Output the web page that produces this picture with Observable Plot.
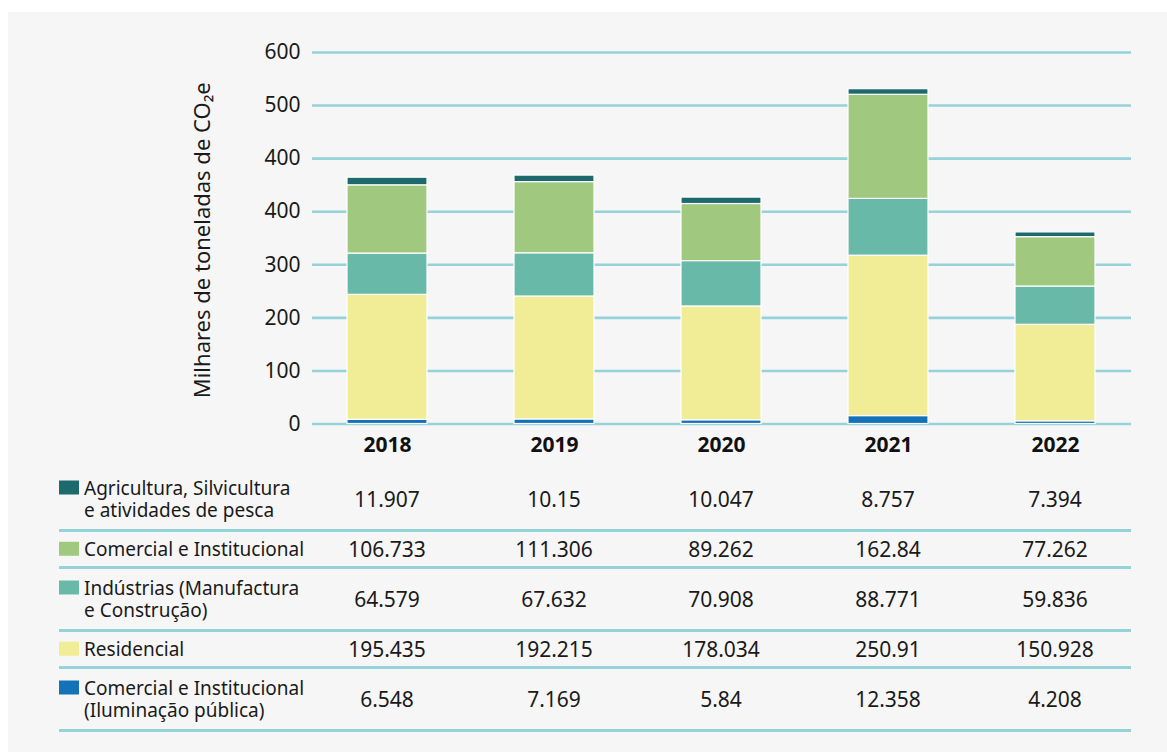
<!DOCTYPE html>
<html><head><meta charset="utf-8">
<script src="https://cdn.jsdelivr.net/npm/d3@7"></script>
<script src="https://cdn.jsdelivr.net/npm/@observablehq/plot@0.6"></script>
<style>
body{margin:0;background:#fff;font-family:"Noto Sans",sans-serif;color:#1a1a1a}
#panel{position:absolute;left:8px;top:12px;width:1159px;height:740px;background:#f6f6f6;overflow:hidden}
#chart{position:absolute;left:0;top:0}
#table{position:absolute;left:51px;top:457.2px;width:1072px}
.row{position:relative;border-bottom:3px solid #96d2d9;box-sizing:content-box}
.lab{position:absolute;left:25px;top:50%;transform:translateY(-50%);font-size:19px;line-height:22.5px;white-space:nowrap}
.ln{height:22.5px}
.sw{position:absolute;left:-25px;top:4.5px;width:20px;height:14px}
.val{position:absolute;top:50%;transform:translate(-50%,-50%);font-size:21px;white-space:nowrap}
</style></head><body><div id="panel"><div id="chart"></div><div id="table"></div></div>
<script>
// ---- data ----
const years = ["2018", "2019", "2020", "2021", "2022"];
// table order (top to bottom)
const seriesKeys = ["agri", "comercial", "industrias", "residencial", "iluminacao"];
const seriesLabels = [
  ["Agricultura, Silvicultura", "e atividades de pesca"],
  ["Comercial e Institucional"],
  ["Indústrias (Manufactura", "e Construção)"],
  ["Residencial"],
  ["Comercial e Institucional", "(Iluminação pública)"]
];
const agri        = [11.907, 10.15, 10.047, 8.757, 7.394];
const comercial   = [106.733, 111.306, 89.262, 162.84, 77.262];
const industrias  = [64.579, 67.632, 70.908, 88.771, 59.836];
const residencial = [195.435, 192.215, 178.034, 250.91, 150.928];
const iluminacao  = [6.548, 7.169, 5.84, 12.358, 4.208];
const valueLabels = {
  agri: ["11.907", "10.15", "10.047", "8.757", "7.394"],
  comercial: ["106.733", "111.306", "89.262", "162.84", "77.262"],
  industrias: ["64.579", "67.632", "70.908", "88.771", "59.836"],
  residencial: ["195.435", "192.215", "178.034", "250.91", "150.928"],
  iluminacao: ["6.548", "7.169", "5.84", "12.358", "4.208"]
};
const yTickLabels = ["0", "100", "200", "300", "400", "400", "500", "600"];
const yLabel = "Milhares de toneladas de CO₂e";
const seriesColors = ["#1c6a6c", "#a0c97f", "#68b9a8", "#f0ed96", "#1472b8"];

// ---- build ----
const valuesByKey = {agri, comercial, industrias, residencial, iluminacao};
const stackOrder = [...seriesKeys].reverse(); // bottom to top
const data = stackOrder.flatMap(k => years.map((y, i) => ({year: y, key: k, value: valuesByKey[k][i]})));
const yMax = 581;
const yTicks = d3.range(yTickLabels.length).map(i => i * yMax / (yTickLabels.length - 1));

const chart = Plot.plot({
  width: 1159, height: 450,
  marginTop: 40, marginBottom: 38.5, marginLeft: 304, marginRight: 36,
  style: {background: "transparent", fontFamily: "Noto Sans", fontSize: "21px", color: "#1a1a1a"},
  x: {domain: years, paddingInner: 0.52, paddingOuter: 0.198, align: 0.5, label: null},
  y: {domain: [0, yMax], label: null},
  color: {domain: seriesKeys, range: seriesColors},
  marks: [
    Plot.ruleY(yTicks, {stroke: "#96d2d9", strokeWidth: 2.6}),
    Plot.barY(data, {x: "year", y: "value", fill: "key", stroke: "white", strokeWidth: 1.2}),
    Plot.axisY(yTicks, {tickSize: 0, tickPadding: 12, tickFormat: d => yTickLabels[yTicks.indexOf(d)], label: null}),
    Plot.axisX({tickSize: 0, tickPadding: 13, fontWeight: "bold", label: null, fill: "#111"}),
    Plot.text([yLabel], {text: d => d, frameAnchor: "left", textAnchor: "middle", rotate: -90, dx: -109.5, dy: 2, fontSize: 22})
  ]
});
document.getElementById("chart").appendChild(chart);

// ---- table ----
const xs = chart.scale("x");
const tableLeft = 51;
const table = document.getElementById("table");
seriesKeys.forEach((k, si) => {
  const row = document.createElement("div");
  row.className = "row";
  row.style.height = (seriesLabels[si].length > 1 ? 59.6 : 34.4) + "px";
  const lab = document.createElement("div");
  lab.className = "lab";
  const sw = document.createElement("div");
  sw.className = "sw";
  sw.style.background = seriesColors[si];
  lab.appendChild(sw);
  seriesLabels[si].forEach(t => {
    const line = document.createElement("div");
    line.className = "ln";
    line.textContent = t;
    lab.appendChild(line);
  });
  row.appendChild(lab);
  years.forEach((y, i) => {
    const v = document.createElement("div");
    v.className = "val";
    v.style.left = (xs.apply(y) + xs.bandwidth / 2 - tableLeft) + "px";
    v.textContent = valueLabels[k][i];
    row.appendChild(v);
  });
  table.appendChild(row);
});
</script></body></html>
